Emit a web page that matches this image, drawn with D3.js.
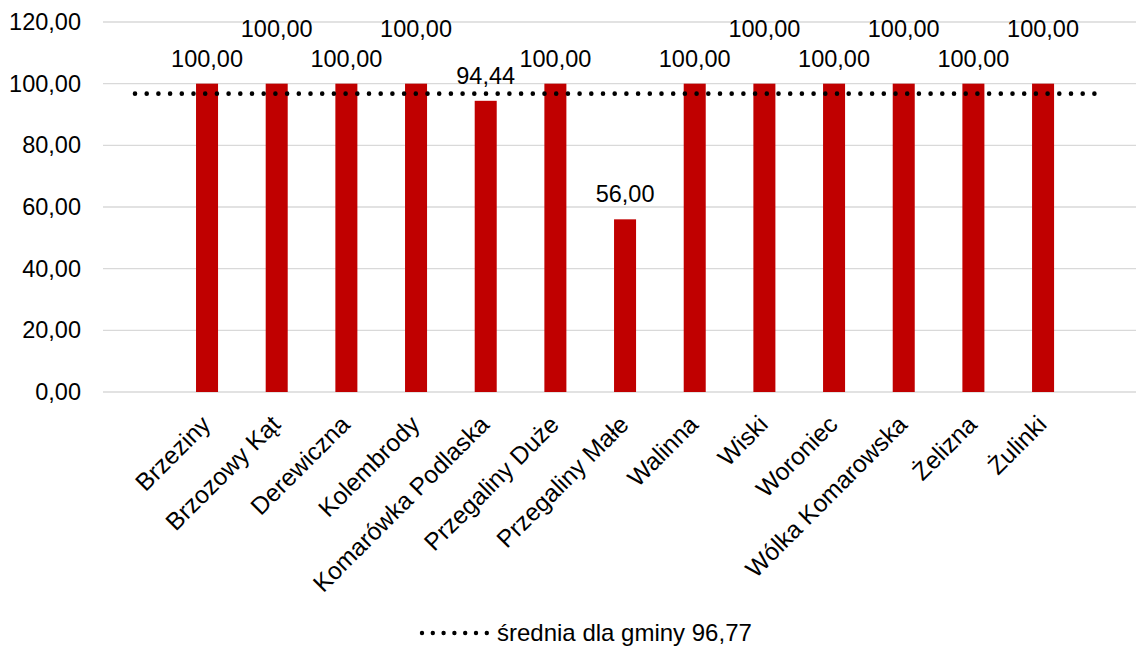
<!doctype html>
<html>
<head>
<meta charset="utf-8">
<title>średnia dla gminy</title>
<style>
  body { margin:0; background:#fff; }
  svg { display:block; font-family:"Liberation Sans", Arial, sans-serif; }
  .grid line { stroke:#d9d9d9; stroke-width:1.3px; }
  .tick text, .lbl { font-size:23.5px; fill:#000; }
  .leg { font-size:24px; fill:#000; }
  .cat { font-size:24.5px; fill:#000; }
</style>
<script src="https://cdn.jsdelivr.net/npm/d3@7"></script>
</head>
<body>
<svg id="chart" width="1136" height="646"></svg>
<script>
// dane
var categories = ["Brzeziny", "Brzozowy Kąt", "Derewiczna", "Kolembrody", "Komarówka Podlaska",
  "Przegaliny Duże", "Przegaliny Małe", "Walinna", "Wiski", "Woroniec", "Wólka Komarowska",
  "Żelizna", "Żulinki"]
var values = [100, 100, 100, 100, 94.44, 100, 56, 100, 100, 100, 100, 100, 100]
var average = 96.77
var yTicks = [0, 20, 40, 60, 80, 100, 120]
var legendText = "średnia dla gminy 96,77"

function fmt(v) { return v.toFixed(2).replace(".", ",") }

var svg = d3.select("#chart")

var y = d3.scaleLinear().domain([0, 120]).range([392, 22])
var x = d3.scaleBand().domain(categories).range([172.2, 1077.9])
  .paddingInner(0.684).paddingOuter(0.342)

// siatka
svg.append("g").attr("class", "grid")
  .selectAll("line").data(yTicks).enter().append("line")
  .attr("x1", 103).attr("x2", 1136)
  .attr("y1", function(d) { return y(d) }).attr("y2", function(d) { return y(d) })

// oś y
var yAxis = svg.append("g")
  .attr("transform", "translate(103,0)")
  .call(d3.axisLeft(y).tickValues(yTicks).tickFormat(fmt).tickSize(0).tickPadding(22))
yAxis.select(".domain").remove()
yAxis.selectAll("text").attr("font-family", null)

// słupki
svg.append("g").selectAll("rect").data(values).enter().append("rect")
  .attr("x", function(d, i) { return x(categories[i]) })
  .attr("width", x.bandwidth())
  .attr("y", function(d) { return y(d) })
  .attr("height", function(d) { return y(0) - y(d) })
  .attr("fill", "#c00000")

// linia średniej
svg.append("line")
  .attr("x1", 135).attr("x2", 1106)
  .attr("y1", y(average)).attr("y2", y(average))
  .style("stroke", "#000").style("stroke-width", 4.6)
  .style("stroke-linecap", "round").style("stroke-dasharray", "0 11.7")

// etykiety danych - podniesione gdy nachodzą na poprzednią
var placed = []
values.forEach(function(v, i) {
  var cx = x(categories[i]) + x.bandwidth() / 2
  var base = y(v) - 17
  var w = fmt(v).length * 11.7
  var prev = placed[i - 1]
  if (prev && prev.base === base && prev.cx + prev.w / 2 > cx - w / 2) base -= 30
  placed.push({ cx: cx, base: base, w: w })
})
svg.append("g").selectAll("text").data(values).enter().append("text")
  .attr("class", "lbl")
  .attr("text-anchor", "middle")
  .attr("x", function(d, i) { return placed[i].cx })
  .attr("y", function(d, i) { return placed[i].base })
  .text(fmt)

// etykiety kategorii
svg.append("g").selectAll("text").data(categories).enter().append("text")
  .attr("class", "cat")
  .attr("text-anchor", "end")
  .attr("transform", function(d) {
    return "translate(" + (x(d) + x.bandwidth() / 2 + 5) + ",426) rotate(-45)"
  })
  .text(function(d) { return d })

// legenda
svg.append("line")
  .attr("x1", 422).attr("x2", 487).attr("y1", 633).attr("y2", 633)
  .style("stroke", "#000").style("stroke-width", 4.4)
  .style("stroke-linecap", "round").style("stroke-dasharray", "0 10.8")
svg.append("text").attr("class", "leg")
  .attr("x", 497).attr("y", 641)
  .text(legendText)
</script>
</body>
</html>
